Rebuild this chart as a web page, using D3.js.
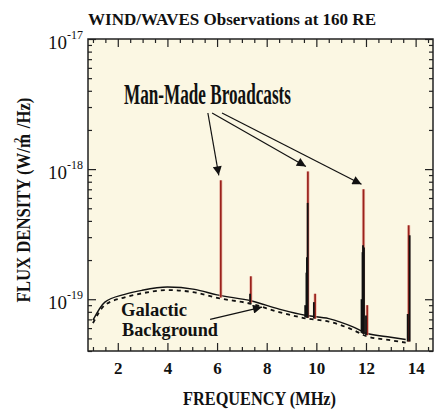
<!DOCTYPE html>
<html>
<head>
<meta charset="utf-8">
<script src="https://cdn.jsdelivr.net/npm/d3@7"></script>
<style>
  body { margin: 0; background: #fff; }
  text { font-family: "Liberation Serif", "DejaVu Serif", serif; font-weight: bold; fill: #111; }
</style>
</head>
<body>
<div id="container"></div>
<script>
/* DATA */
// galactic background, MHz vs W/m^2/Hz
const bgFreq = [1.0, 1.48, 2.28, 2.97, 4.0, 5.1, 6.0, 7.4, 8.5, 9.6, 10.5, 11.5, 12.0, 13.0, 13.6];
const bgFlux = [6.9e-20, 9.5e-20, 1.09e-19, 1.17e-19, 1.24e-19, 1.19e-19, 1.08e-19, 9.7e-20, 8.4e-20, 7.5e-20, 7.1e-20, 6.1e-20, 5.5e-20, 5.1e-20, 4.9e-20];

// broadcast spikes (red trace)
const redFreq = [6.15, 7.36, 9.66, 9.95, 11.9, 12.05, 13.72];
const redFlux = [8.2e-19, 1.5e-19, 9.6e-19, 1.1e-19, 7.0e-19, 9.0e-20, 3.7e-19];

// broadcast spikes (black trace)
const blackFreq = [7.33, 9.55, 9.6, 9.62, 9.65, 9.9, 11.82, 11.86, 11.88, 11.92, 12.0, 13.68, 13.76];
const blackFlux = [1.1e-19, 9.0e-20, 1.6e-19, 2.1e-19, 5.5e-19, 9.5e-20, 1.0e-19, 2.3e-19, 2.6e-19, 2.5e-19, 7.5e-20, 7.7e-20, 3.1e-19];

const xMajor = [2, 4, 6, 8, 10, 12, 14];
const yMajor = [1e-19, 1e-18, 1e-17];
const yLabels = ["-19", "-18", "-17"];

// annotation arrows (start freq, start flux) -> targets: red spikes 0, 2, 4
const arrowFrom = [[5.63, 2.7e-18], [5.80, 2.7e-18], [6.2, 2.7e-18]];
const arrowTo = [0, 2, 4];
const galFrom = [5.72, 7.0e-20];
const galTo = [7.81, 8.7e-20];

/* CONSTANTS */
const width = 435, height = 412;
const margin = { top: 39, right: 2, bottom: 61, left: 88 };

const svg = d3.select('#container').append('svg')
  .attr('width', width).attr('height', height);

const x = d3.scaleLinear()
  .domain([0.8, 14.7])
  .range([margin.left, width - margin.right]);

const y = d3.scaleLog()
  .domain([4e-20, 1e-17])
  .range([height - margin.bottom, margin.top]);

svg.append('defs').append('marker')
  .attr('id', 'head')
  .attr('viewBox', '0 0 10 10')
  .attr('refX', 10).attr('refY', 5)
  .attr('markerWidth', 12).attr('markerHeight', 9)
  .attr('orient', 'auto')
  .attr('markerUnits', 'userSpaceOnUse')
  .append('path').attr('d', 'M0,0 L10,5 L0,10 z').attr('fill', '#111');

// plot background
svg.append('rect')
  .attr('x', x.range()[0]).attr('y', y.range()[1])
  .attr('width', x.range()[1] - x.range()[0])
  .attr('height', y.range()[0] - y.range()[1])
  .attr('fill', '#fbf7e3');

// minor ticks
const xMinor = d3.range(1, 14.6, 0.5).filter(v => !xMajor.includes(v));
const yMinor = [];
[-20, -19, -18].forEach(e => { for (let m = 2; m <= 9; m++) { const v = m * Math.pow(10, e); if (v >= 4e-20 && v < 1e-17) yMinor.push(v); } });

const yb = y.range()[0], yt = y.range()[1], xl = x.range()[0], xr = x.range()[1];

function styleAxis(g) {
  g.selectAll('.domain').remove();
  g.selectAll('line').attr('stroke', '#222').attr('stroke-width', 1.2);
}

// bottom axis
svg.append('g').attr('transform', `translate(0,${yb})`)
  .call(d3.axisBottom(x).tickValues(xMinor).tickSize(-4).tickFormat(''))
  .call(styleAxis);
svg.append('g').attr('transform', `translate(0,${yb})`)
  .call(d3.axisBottom(x).tickValues(xMajor).tickSize(-8).tickPadding(11).tickFormat(d3.format('d')))
  .call(styleAxis)
  .call(g => g.selectAll('text').style('font-size', '17px').attr('fill', '#111'));
// top axis
svg.append('g').attr('transform', `translate(0,${yt})`)
  .call(d3.axisTop(x).tickValues(xMinor).tickSize(-4).tickFormat(''))
  .call(styleAxis);
svg.append('g').attr('transform', `translate(0,${yt})`)
  .call(d3.axisTop(x).tickValues(xMajor).tickSize(-8).tickFormat(''))
  .call(styleAxis);
// left axis
svg.append('g').attr('transform', `translate(${xl},0)`)
  .call(d3.axisLeft(y).tickValues(yMinor).tickSize(-4).tickFormat(''))
  .call(styleAxis);
svg.append('g').attr('transform', `translate(${xl},0)`)
  .call(d3.axisLeft(y).tickValues(yMajor).tickSize(-8).tickFormat(''))
  .call(styleAxis);
// right axis
svg.append('g').attr('transform', `translate(${xr},0)`)
  .call(d3.axisRight(y).tickValues(yMinor).tickSize(-4).tickFormat(''))
  .call(styleAxis);
svg.append('g').attr('transform', `translate(${xr},0)`)
  .call(d3.axisRight(y).tickValues(yMajor).tickSize(-8).tickFormat(''))
  .call(styleAxis);

// frame
svg.append('rect')
  .attr('x', xl).attr('y', yt).attr('width', xr - xl).attr('height', yb - yt)
  .attr('fill', 'none').attr('stroke', '#222').attr('stroke-width', 1.5);

// y tick labels 10^n
const yl = svg.append('g').selectAll('text').data(yMajor).join('text')
  .attr('x', xl - 40).attr('y', d => y(d) + 10)
  .style('font-size', '19px').style('font-weight', 'normal');
yl.append('tspan').text('10');
yl.append('tspan').text((d, i) => yLabels[i]).attr('dy', -10).style('font-size', '12px');

// background curve
const bg = bgFreq.map((f, i) => ({ f, v: bgFlux[i] }));
const line = d3.line().x(d => x(d.f)).y(d => y(d.v)).curve(d3.curveMonotoneX);
svg.append('path').datum(bg).attr('d', line)
  .attr('fill', 'none').attr('stroke', '#111').attr('stroke-width', 1.4);
svg.append('path').datum(bg).attr('d', line)
  .attr('transform', 'translate(0,3)')
  .attr('fill', 'none').attr('stroke', '#111').attr('stroke-width', 1.8)
  .attr('stroke-dasharray', '4,4');

const baseAt = f => {
  const i = d3.bisectLeft(bgFreq, f);
  const i0 = Math.max(0, i - 1), i1 = Math.min(bgFreq.length - 1, i);
  if (i0 === i1) return bgFlux[i0];
  const t = (f - bgFreq[i0]) / (bgFreq[i1] - bgFreq[i0]);
  return Math.exp(Math.log(bgFlux[i0]) * (1 - t) + Math.log(bgFlux[i1]) * t);
};

const red = redFreq.map((f, i) => ({ f, v: redFlux[i] }));
const black = blackFreq.map((f, i) => ({ f, v: blackFlux[i] }));

// red halo + line
svg.append('g').selectAll('line').data(red).join('line')
  .attr('x1', d => x(d.f)).attr('x2', d => x(d.f))
  .attr('y1', d => y(baseAt(d.f)) + 2).attr('y2', d => y(d.v))
  .attr('stroke', '#e6a394').attr('stroke-width', 3.2).attr('opacity', 0.7);
svg.append('g').selectAll('line').data(red).join('line')
  .attr('x1', d => x(d.f)).attr('x2', d => x(d.f))
  .attr('y1', d => y(baseAt(d.f)) + 2).attr('y2', d => y(d.v))
  .attr('stroke', '#9a221c').attr('stroke-width', 1.7);
svg.append('g').selectAll('line').data(black).join('line')
  .attr('x1', d => x(d.f)).attr('x2', d => x(d.f))
  .attr('y1', d => y(baseAt(d.f)) + 2).attr('y2', d => y(d.v))
  .attr('stroke', '#111').attr('stroke-width', 1.8);

// annotations
const ann = svg.append('g');
ann.selectAll('line').data(arrowFrom).join('line')
  .attr('x1', d => x(d[0])).attr('y1', d => y(d[1]))
  .attr('x2', (d, i) => x(redFreq[arrowTo[i]]) - 2)
  .attr('y2', (d, i) => y(redFlux[arrowTo[i]]) - 5)
  .attr('stroke', '#111').attr('stroke-width', 1.2)
  .attr('marker-end', 'url(#head)');

ann.append('line')
  .attr('x1', x(galFrom[0])).attr('y1', y(galFrom[1]))
  .attr('x2', x(galTo[0])).attr('y2', y(galTo[1]))
  .attr('stroke', '#111').attr('stroke-width', 1.2)
  .attr('marker-end', 'url(#head)');

ann.append('text').text('Man-Made Broadcasts')
  .attr('x', x(2.25)).attr('y', y(3.15e-18))
  .attr('textLength', 167).attr('lengthAdjust', 'spacingAndGlyphs')
  .style('font-size', '29px');

ann.append('text').text('Galactic')
  .attr('x', x(2.13)).attr('y', y(7.0e-20) - 3)
  .attr('textLength', 66).attr('lengthAdjust', 'spacingAndGlyphs')
  .style('font-size', '18px');
ann.append('text').text('Background')
  .attr('x', x(2.17)).attr('y', y(5.3e-20) + 1)
  .attr('textLength', 96).attr('lengthAdjust', 'spacingAndGlyphs')
  .style('font-size', '18px');

// titles
svg.append('text').text('WIND/WAVES Observations at 160 RE')
  .attr('x', xl).attr('y', 25)
  .attr('textLength', 288).attr('lengthAdjust', 'spacingAndGlyphs')
  .style('font-size', '17px');

svg.append('text').text('FREQUENCY (MHz)')
  .attr('x', (xl + xr) / 2 - 1).attr('y', 405)
  .attr('text-anchor', 'middle')
  .attr('textLength', 153).attr('lengthAdjust', 'spacingAndGlyphs')
  .style('font-size', '19px');

const yt2 = svg.append('text')
  .attr('transform', 'translate(30,200) rotate(-90) scale(0.88,1)')
  .attr('text-anchor', 'middle')
  .style('font-size', '19px');
yt2.append('tspan').text('FLUX  DENSITY (W/m');
yt2.append('tspan').text('2').attr('dx', -10).attr('dy', -8).style('font-size', '12px');
yt2.append('tspan').text(' /Hz)').attr('dx', 6).attr('dy', 8);
</script>
</body>
</html>
